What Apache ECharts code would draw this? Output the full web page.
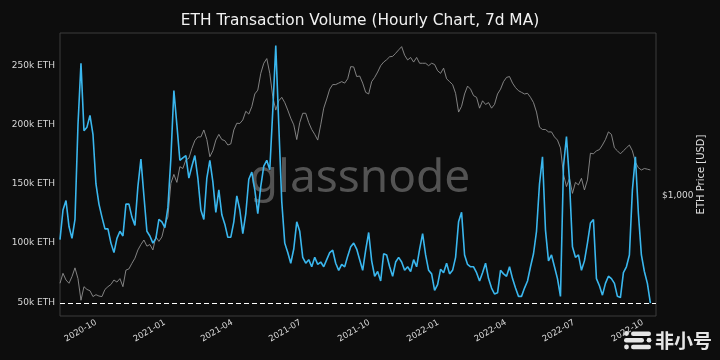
<!DOCTYPE html>
<html><head><meta charset="utf-8">
<script src="https://cdn.jsdelivr.net/npm/echarts@6/dist/echarts.min.js"></script>
<style>html,body{margin:0;padding:0;background:#0d0d0d;}#c{width:720px;height:360px;}</style>
</head><body><div id="c"></div>
<script>
// Sampling grid of the series: every 4 days from 2020-08-14
const seriesStart = [2020, 8, 14];
const stepDays = 4;

// Transaction volume, 7d MA (thousand ETH)
const volumeK = [
103,128,136,114,104,120,200,252,195,198,
208,192,150,133,122,112,112,100,92,104,
110,106,133,133,122,115,148,171,140,110,
106,100,104,120,118,113,130,172,229,200,
170,172,174,155,165,174,155,128,120,155,
170,152,126,145,124,116,105,105,118,140,
128,108,125,154,160,145,125,148,165,170,
162,212,267,200,135,100,92,83,95,118,
110,88,83,86,80,88,82,84,80,86,
92,94,83,77,82,80,89,97,100,95,
86,77,94,109,85,72,76,68,91,90,
80,72,84,88,84,77,80,76,86,80,
95,108,90,77,74,60,65,78,75,83,
74,77,88,118,126,90,82,80,80,75,
68,75,83,70,62,57,58,77,74,72,
80,70,62,55,55,62,68,80,91,110,
150,173,111,85,90,80,70,55,165,190,
153,97,88,90,77,85,100,117,120,70,
64,56,66,72,70,66,55,54,75,80,
90,145,173,125,90,76,66,49.2
];

// ETH price (USD)
const priceUSD = [
400,444,414,400,429,470,420,335,386,375,
370,348,355,350,348,375,386,395,414,405,
420,386,459,465,493,520,567,600,629,590,
600,567,651,620,650,740,800,1138,1250,1150,
1355,1330,1453,1480,1640,1780,1850,1850,1990,1800,
1504,1600,1790,1900,1800,1780,1700,1720,1990,2135,
2130,2210,2420,2350,2540,2900,3020,3600,4000,4200,
3600,2820,2450,2700,2800,2650,2450,2250,2100,1800,
2150,2370,2370,2150,2000,1900,1790,2100,2500,2750,
3050,3200,3200,3250,3300,3250,3400,3860,3850,3480,
3500,3250,2950,2900,3300,3450,3650,3900,4050,4150,
4280,4300,4440,4600,4760,4350,4140,4250,4050,4250,
4000,4000,4000,3900,4000,3950,3700,3600,3800,3400,
3300,3200,2920,2400,2550,2900,3150,3050,2850,2800,
2500,2700,2600,2650,2500,2600,2900,3050,3300,3450,
3480,3250,3100,3000,2950,2900,2920,2800,2650,2400,
2050,2000,2000,1950,1950,1850,1790,1650,1250,1100,
1200,1025,1150,1120,1200,1062,1180,1560,1550,1600,
1620,1700,1800,1950,1900,1650,1600,1550,1600,1650,
1700,1600,1420,1340,1309,1330,1320,1309
];

const xTickLabels = ['2020-10','2021-01','2021-04','2021-07','2021-10','2022-01','2022-04','2022-07','2022-10'];
const yTickValuesK = [50,100,150,200,250];
const priceTickValues = [1000];

const xMin = new Date(2020, 7, 14).getTime();
const xMax = new Date(2022, 9, 18, 12).getTime();
const dates = volumeK.map((_, i) => new Date(seriesStart[0], seriesStart[1]-1, seriesStart[2] + stepDays*i).getTime());
const xTicks = xTickLabels.map(s => { const p = s.split('-'); return new Date(+p[0], +p[1]-1, 1).getTime(); });
const pad = n => (n < 10 ? '0' : '') + n;
const FONT = 'DejaVu Sans';

const chart = echarts.init(document.getElementById('c'), null, {renderer: 'canvas'});
chart.setOption({
  backgroundColor: '#0d0d0d',
  animation: false,
  title: {
    text: 'ETH Transaction Volume (Hourly Chart, 7d MA)',
    left: 'center', top: 8,
    textStyle: {color: '#f2f2f2', fontSize: 15.4, fontWeight: 'normal', fontFamily: FONT}
  },
  grid: {left: 60, right: 64, top: 33, bottom: 44, show: true, borderColor: '#3c3c3c', borderWidth: 1, backgroundColor: 'transparent'},
  xAxis: {
    type: 'value', min: xMin, max: xMax, scale: true,
    axisLine: {show: false}, splitLine: {show: false},
    axisTick: {show: false},
    axisLabel: {
      customValues: xTicks, rotate: 30, margin: 6, color: '#d8d8d8', fontSize: 8.5, fontFamily: FONT,
      hideOverlap: false, showMinLabel: true, showMaxLabel: true,
      formatter: v => { const d = new Date(v); return d.getFullYear() + '-' + pad(d.getMonth()+1); }
    }
  },
  yAxis: [{
    type: 'value', min: 38.4, max: 277.6, position: 'left',
    axisLine: {show: false}, splitLine: {show: false}, axisTick: {show: false},
    axisLabel: {customValues: yTickValuesK, margin: 5, color: '#d8d8d8', fontSize: 9, fontFamily: FONT,
      formatter: v => v + 'k ETH'}
  }, {
    type: 'log', logBase: 10, min: 284, max: 5490, position: 'right',
    name: 'ETH Price [USD]', nameLocation: 'middle', nameGap: 40, nameMoveOverlap: false,
    nameTextStyle: {color: '#e0e0e0', fontSize: 10, fontFamily: FONT},
    axisLine: {show: false}, splitLine: {show: false}, axisTick: {show: false},
    axisLabel: {margin: 6, color: '#d8d8d8', fontSize: 9, fontFamily: FONT, showMinLabel: false, showMaxLabel: false,
      formatter: v => (priceTickValues.some(t => Math.abs(v - t) < 1) ? '$1,000' : '')}
  }],
  graphic: [
    {type: 'text', z: 1, silent: true, style: {text: 'glassnode', x: 360, y: 179, align: 'center', verticalAlign: 'middle',
      font: '46px "Noto Sans"', fill: '#535353'}},
    {type: 'group', z: 100, children: [
      {type: 'circle', shape: {cx: 626.5, cy: 333.5, r: 2.4}, style: {fill: '#e6e6e6'}},
      {type: 'rect', shape: {x: 631, y: 331.5, width: 20, height: 4.5, r: 2.2}, style: {fill: '#e6e6e6'}},
      {type: 'rect', shape: {x: 624, y: 338, width: 20, height: 4.5, r: 2.2}, style: {fill: '#e6e6e6'}},
      {type: 'circle', shape: {cx: 649, cy: 340.2, r: 2.4}, style: {fill: '#e6e6e6'}},
      {type: 'circle', shape: {cx: 626.5, cy: 347, r: 2.4}, style: {fill: '#e6e6e6'}},
      {type: 'rect', shape: {x: 631, y: 344.8, width: 20, height: 4.5, r: 2.2}, style: {fill: '#e6e6e6'}},
      {type: 'text', style: {text: '非小号', x: 655, y: 340.5, verticalAlign: 'middle', font: 'bold 19px "Noto Sans CJK SC"', fill: '#e6e6e6'}}
    ]}
  ],
  series: [{
    type: 'line', yAxisIndex: 1, z: 2, showSymbol: false, silent: true,
    data: dates.map((d, i) => [d, priceUSD[i]]),
    lineStyle: {color: '#8e8e8e', width: 0.9}
  }, {
    type: 'line', yAxisIndex: 0, z: 3, showSymbol: false, silent: true,
    data: dates.map((d, i) => [d, volumeK[i]]),
    lineStyle: {color: '#3ab7ee', width: 1.6},
    markLine: {silent: true, symbol: 'none', label: {show: false},
      lineStyle: {color: '#ffffff', type: [5, 3], width: 1},
      data: [{type: 'min'}]}
  }]
});
</script>
</body></html>
